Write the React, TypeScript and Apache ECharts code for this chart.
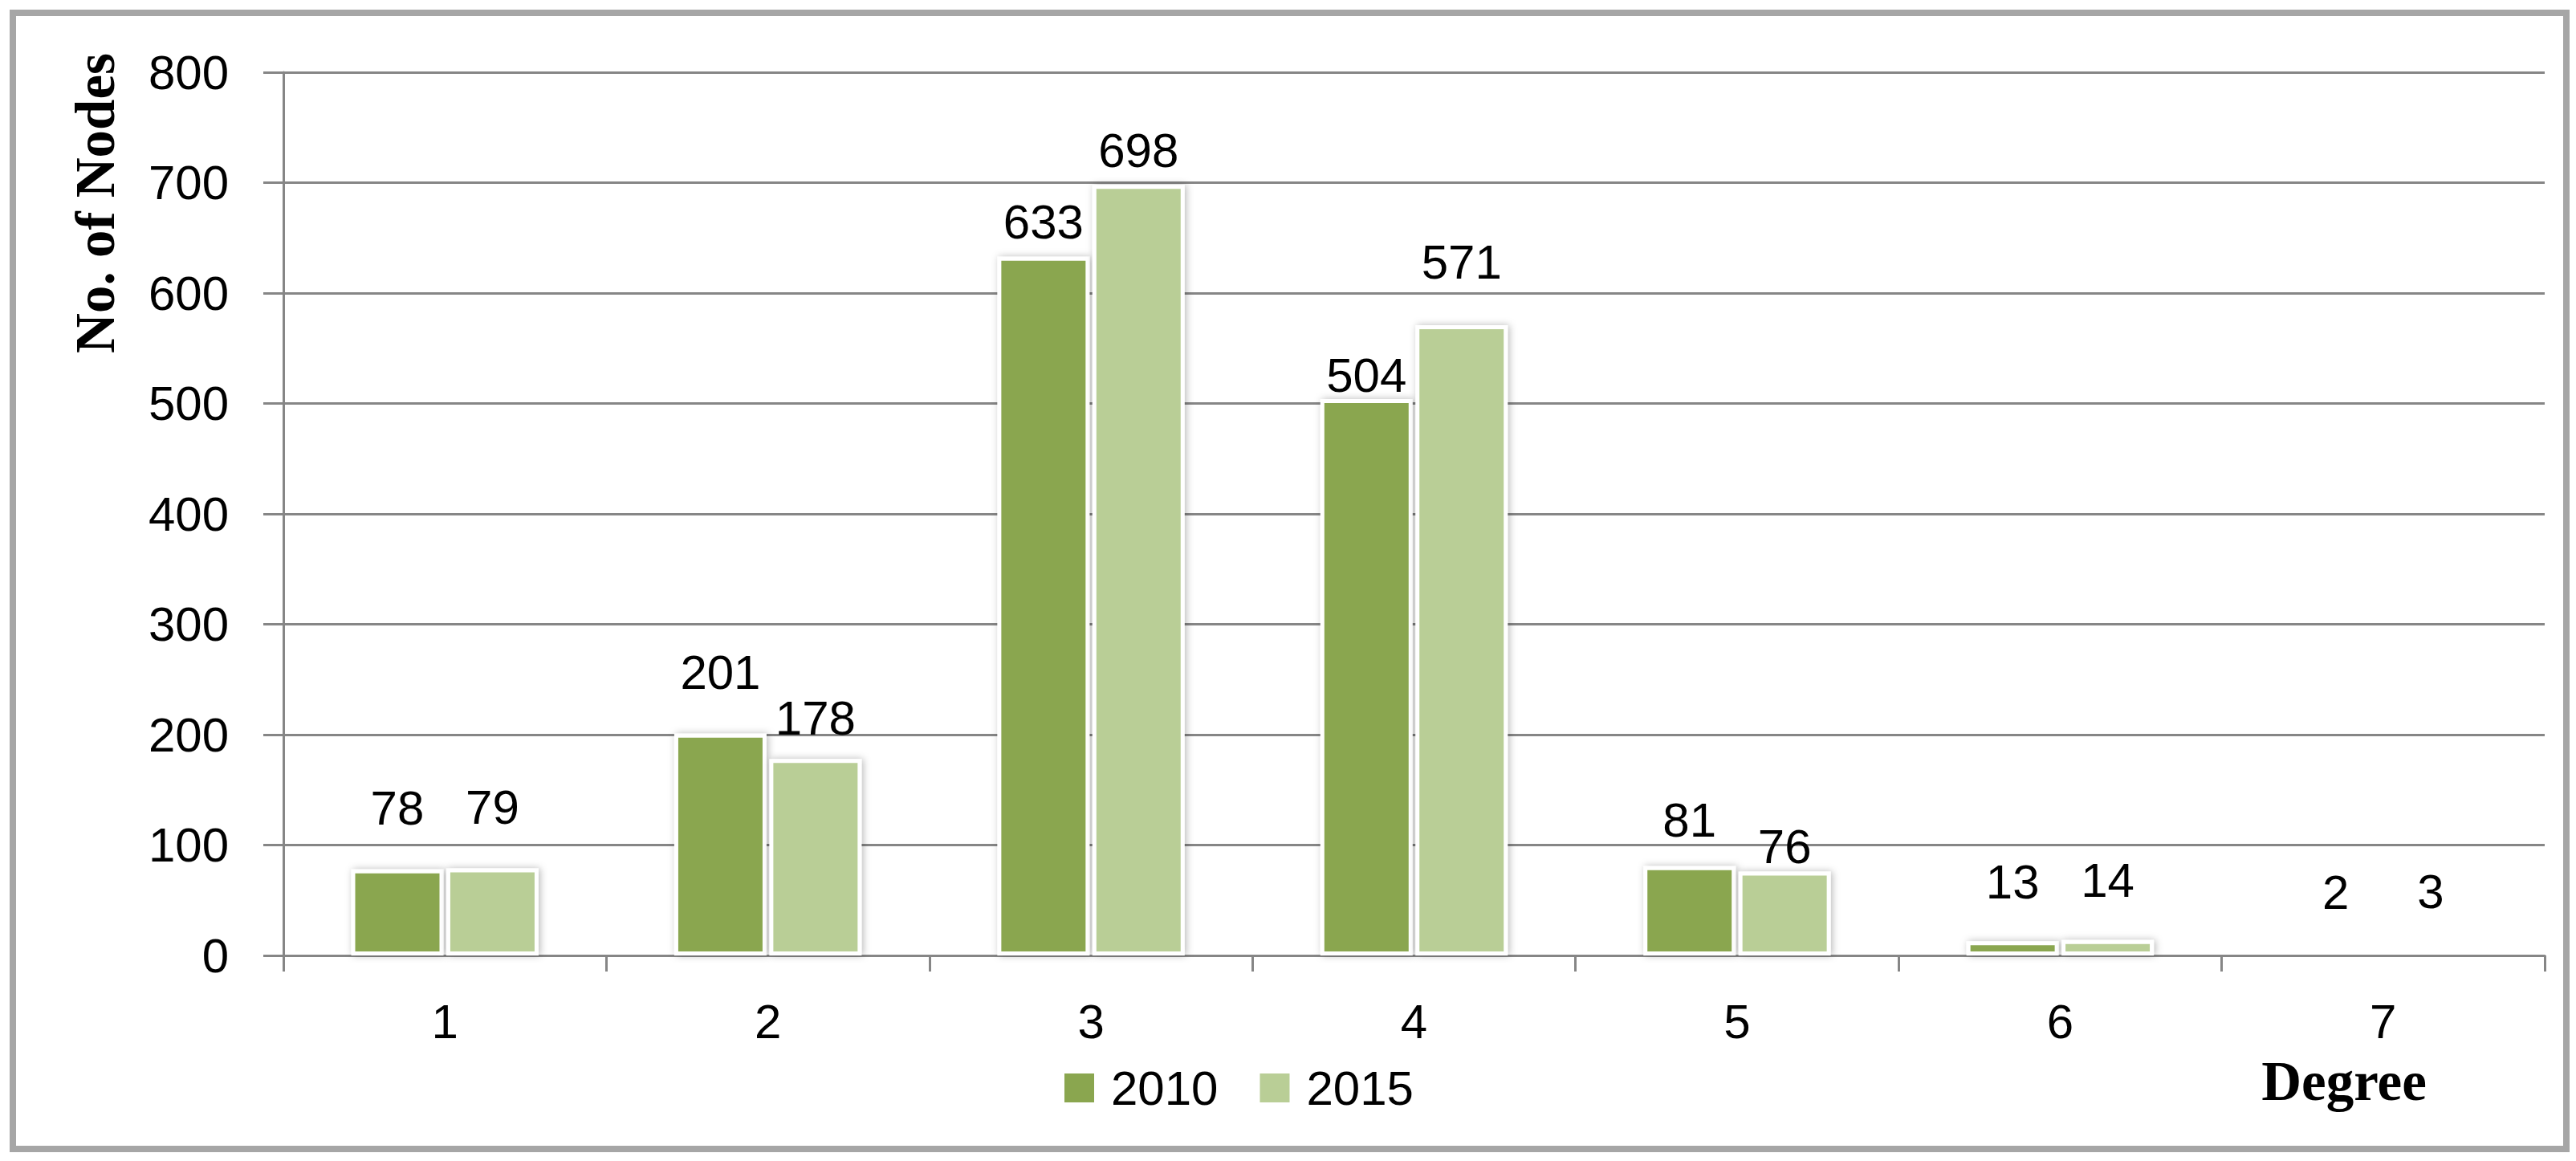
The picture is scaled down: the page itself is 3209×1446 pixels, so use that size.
import React, { useEffect, useRef } from "react";
import * as echarts from "echarts";

const categories = ["1", "2", "3", "4", "5", "6", "7"];
const values2010 = [78, 201, 633, 504, 81, 13, 2];
const values2015 = [79, 178, 698, 571, 76, 14, 3];
const seriesNames = ["2010", "2015"];
const yMin = 0;
const yMax = 800;
const yInterval = 100;

// label gap above each bar (styling only)
const labelGap2010 = [46, 46, 13, 0, 27, 44, 45];
const labelGap2015 = [46, 21, 13, 48, 1, 44, 45];

const SANS = "'Liberation Sans', Arial, sans-serif";
const SERIF = "'Liberation Serif', 'Times New Roman', serif";
const GRID_COLOR = "#868686";

export default function App() {
  const ref = useRef<HTMLDivElement>(null);
  useEffect(() => {
    document.body.style.margin = "0";
    const chart = echarts.init(ref.current!, null, { renderer: "svg" });
    const mk = (name: string, vals: number[], gaps: number[], color: string) => ({
      name,
      type: "bar",
      barCategoryGap: "42%",
      barGap: "3%",
      itemStyle: {
        color,
        borderColor: "#ffffff",
        borderWidth: 5,
        shadowBlur: 10,
        shadowColor: "rgba(0,0,0,0.28)",
        shadowOffsetX: 2,
      },
      label: {
        show: true,
        position: "top",
        fontSize: 60,
        color: "#000",
        fontFamily: SANS,
      },
      data: vals.map((v, i) => ({ value: v, label: { distance: gaps[i] } })),
    });
    chart.setOption({
      animation: false,
      backgroundColor: "#ffffff",
      grid: { left: 353, right: 39, top: 90, bottom: 256, containLabel: false },
      legend: {
        data: seriesNames,
        left: 1321,
        top: 1320,
        icon: "rect",
        itemWidth: 37,
        itemHeight: 36,
        itemGap: 52,
        itemStyle: { borderWidth: 0, shadowBlur: 0 },
        textStyle: { fontSize: 60, color: "#000", fontFamily: SANS, padding: [0, 0, 0, 16] },
      },
      xAxis: {
        type: "category",
        data: categories,
        axisLine: { show: true, lineStyle: { color: GRID_COLOR, width: 3 } },
        axisTick: { show: true, length: 20, lineStyle: { color: GRID_COLOR, width: 3 } },
        axisLabel: { margin: 52, fontSize: 60, color: "#000", fontFamily: SANS },
      },
      yAxis: {
        type: "value",
        min: yMin,
        max: yMax,
        interval: yInterval,
        axisLine: { show: true, lineStyle: { color: GRID_COLOR, width: 3 } },
        axisTick: { show: true, length: 25, lineStyle: { color: GRID_COLOR, width: 3 } },
        splitLine: { show: true, lineStyle: { color: GRID_COLOR, width: 3 } },
        axisLabel: { margin: 68, fontSize: 60, color: "#000", fontFamily: SANS },
      },
      graphic: [
        {
          type: "rect",
          shape: { x: 16, y: 16, width: 3181, height: 1415 },
          style: { fill: "none", stroke: "#a6a6a6", lineWidth: 8 },
          z: 100,
        },
        {
          type: "text",
          x: 119,
          y: 253,
          rotation: Math.PI / 2,
          style: {
            text: "No. of Nodes",
            font: `bold 69px ${SERIF}`,
            fill: "#000",
            align: "center",
            verticalAlign: "middle",
          },
        },
        {
          type: "text",
          x: 2920,
          y: 1347,
          style: {
            text: "Degree",
            font: `bold 69px ${SERIF}`,
            fill: "#000",
            align: "center",
            verticalAlign: "middle",
          },
        },
      ],
      series: [
        mk(seriesNames[0], values2010, labelGap2010, "#8AA64F"),
        mk(seriesNames[1], values2015, labelGap2015, "#B9CE96"),
      ],
    });
    return () => chart.dispose();
  }, []);
  return (
    <div
      ref={ref}
      style={{ position: "absolute", left: 0, top: 0, width: 3209, height: 1446 }}
    />
  );
}
